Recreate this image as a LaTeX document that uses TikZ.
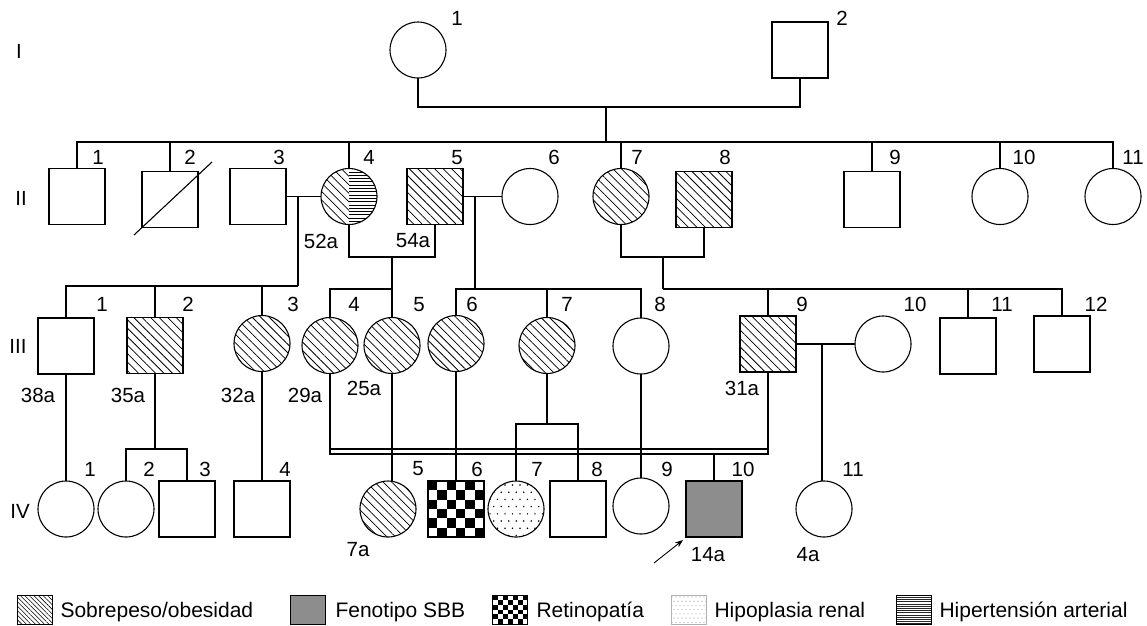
\documentclass[tikz,border=0pt]{standalone}
\usepackage{fontspec}
\setmainfont{Liberation Sans}
\usetikzlibrary{patterns.meta,calc,arrows.meta}
\definecolor{sbbgray}{RGB}{141,141,141}
\begin{document}
\begin{tikzpicture}[x=1pt,y=-1pt,line width=1.1pt,
  male/.style={draw,rectangle,minimum width=56pt,minimum height=56pt,inner sep=0pt,outer sep=0pt},
  female/.style={draw,circle,minimum size=56pt,inner sep=0pt,outer sep=0pt},
  obese/.style={pattern={Lines[angle=-45,distance=6pt,line width=0.75pt]}},
  sbb/.style={fill=sbbgray},
  checker/.style={path picture={
    \foreach \i in {0,...,5}{\foreach \j in {0,...,5}{
      \pgfmathtruncatemacro\chk{mod(\i+\j,2)}
      \ifnum\chk=0
        \fill[black] ($(path picture bounding box.north west)+({\i*9.3333},{\j*9.3333})$) rectangle ++(9.3333,9.3333);
      \fi}}}},
  dotty/.style={path picture={
    \foreach \r in {0,...,7}{\foreach \c in {0,...,7}{
      \fill ($(path picture bounding box.north west)+({\c*7.5+mod(\r,2)*3.75+2},{\r*7.2+4})$) circle (0.8pt);}}}},
  halfhyper/.style={path picture={
    \fill[pattern={Lines[angle=-45,distance=6pt,line width=0.75pt]}]
      (path picture bounding box.north west) rectangle (path picture bounding box.south);
    \foreach \k in {1,...,17}
      \draw[line width=0.6pt] ($(path picture bounding box.north)+(0,{\k*3.3})$) -- ++(30,0);}},
  smallchecker/.style={path picture={
    \foreach \i in {0,...,6}{\foreach \j in {0,...,5}{
      \pgfmathtruncatemacro\chk{mod(\i+\j,2)}
      \ifnum\chk=0
        \fill[black] ($(path picture bounding box.north west)+({\i*5},{\j*4.833})$) rectangle ++(5,4.833);
      \fi}}}},
  smalldots/.style={path picture={
    \foreach \r in {0,...,6}{\foreach \c in {0,...,8}{
      \fill[gray!80] ($(path picture bounding box.north west)+({\c*4+mod(\r,2)*2+1},{\r*4.2+2})$) circle (0.55pt);}}}},
  hlines/.style={path picture={
    \foreach \k in {1,...,13}
      \draw[line width=0.55pt,black!85] ($(path picture bounding box.north west)+(0,{\k*2.2})$) -- ++(35,0);}},
  num/.style={inner sep=0pt,font=\fontsize{20.5}{24}\selectfont},
  legtext/.style={inner sep=0pt,anchor=base west,font=\fontsize{21}{24}\selectfont},
  legbox/.style={draw,rectangle,minimum width=35pt,minimum height=29pt,inner sep=0pt,outer sep=0pt,line width=0.9pt},
]
\useasboundingbox (0,0) rectangle (1147,625);

% ---------- generation labels
\node[num] (gI)   at (19,51)  {I};
\node[num] (gII)  at (21,198) {II};
\node[num] (gIII) at (18,346) {III};
\node[num] (gIV)  at (20,511) {IV};

% ---------- generation I
\node[female] (i1) at (418,50) {};
\node[male]   (i2) at (800,50) {};

% ---------- generation II
\node[male]            (ii1)  at (77,196.5)  {};
\node[male]            (ii2)  at (170,199.5) {};
\node[male]            (ii3)  at (258,196.5) {};
\node[female,halfhyper](ii4)  at (349,196.5) {};
\node[male,obese]      (ii5)  at (435,196.5) {};
\node[female]          (ii6)  at (530,196.5) {};
\node[female,obese]    (ii7)  at (621,196.5) {};
\node[male,obese]      (ii8)  at (704,199.5) {};
\node[male]            (ii9)  at (872,199.5) {};
\node[female]          (ii10) at (1000,196.5) {};
\node[female]          (ii11) at (1113,196.5) {};
% deceased mark
\draw ($(ii2.center)+(-36,35.5)$) -- ($(ii2.center)+(42,-37.5)$);

% ---------- generation III
\node[male]         (iii1)  at (66,346)    {};
\node[male,obese]   (iii2)  at (155,345.5) {};
\node[female,obese] (iii3)  at (262,343.5) {};
\node[female,obese] (iii4)  at (330,345.5) {};
\node[female,obese] (iii5)  at (392,345.5) {};
\node[female,obese] (iii6)  at (456,343.5) {};
\node[female,obese] (iii7)  at (547,345.5) {};
\node[female]       (iii8)  at (641,346)   {};
\node[male,obese]   (iii9)  at (768,344)   {};
\node[female]       (iii10) at (883,344)   {};
\node[male]         (iii11) at (968,346)   {};
\node[male]         (iii12) at (1062,344)  {};

% ---------- generation IV
\node[female]       (iv1)  at (66,509)  {};
\node[female]       (iv2)  at (126,509) {};
\node[male]         (iv3)  at (187,509) {};
\node[male]         (iv4)  at (262,509) {};
\node[female,obese] (iv5)  at (388,509) {};
\node[male,checker] (iv6)  at (456,509) {};
\node[female,dotty] (iv7)  at (516,509) {};
\node[male]         (iv8)  at (578,509) {};
\node[female]       (iv9)  at (641,506) {};
\node[male,sbb]     (iv10) at (714,509) {};
\node[female]       (iv11) at (824,509) {};

% ---------- I -> II
\coordinate (mI)  at (606,107);
\coordinate (sII) at (606,142);
\draw (i1.south) |- (mI) -| (i2.south);
\draw (mI) -- (sII);
\draw (ii1.north) |- (sII) -| (ii11.north);
\foreach \n in {ii2,ii4,ii7,ii9,ii10} \draw (sII -| \n.north) -- (\n.north);

% ---------- II-3 x II-4
\draw (ii3.east) -- (ii4.west);
\coordinate (m34)   at (298,196.5);
\coordinate (sIIIa) at (298,286);
\draw (m34) -- (sIIIa);
\draw (iii1.north) |- (sIIIa);
\draw (sIIIa -| iii2.north) -- (iii2.north);
\draw (sIIIa -| iii3.north) -- (iii3.north);

% ---------- II-4 x II-5
\coordinate (m45)   at (392,257);
\coordinate (sIIIb) at (392,289);
\draw (ii4.south) |- (m45) -| (ii5.south);
\draw (m45) -- (sIIIb);
\draw (iii4.north) |- (sIIIb) -- (iii5.north);

% ---------- II-5 x II-6
\draw (ii5.east) -- (ii6.west);
\coordinate (m56)   at (475,196.5);
\coordinate (sIIIc) at (475,289);
\draw (m56) -- (sIIIc);
\draw (iii6.north) |- (sIIIc) -| (iii8.north);
\draw (sIIIc -| iii7.north) -- (iii7.north);

% ---------- II-7 x II-8
\coordinate (m78)   at (663,257);
\coordinate (sIIId) at (663,289);
\draw (ii7.south) |- (m78) -| (ii8.south);
\draw (m78) -- (sIIId);
\draw (sIIId) -| (iii12.north);
\foreach \n in {iii9,iii11} \draw (sIIId -| \n.north) -- (\n.north);

% ---------- III-9 x III-10
\draw (iii9.east) -- (iii10.west);
\coordinate (m910) at (822,344);
\draw (m910) -- (m910 |- iv11.north);

% ---------- III -> IV
\draw (iii1.south) -- (iv1.north);
\coordinate (sIVa) at (155,449);
\draw (iii2.south) -- (sIVa);
\draw (iv2.north) |- (sIVa) -| (iv3.north);
\draw (iii3.south) -- (iv4.north);
% consanguineous union III-4 x III-9
\coordinate (dL) at (330,454);
\coordinate (dR) at (768,454);
\draw (iii4.south) -- (dL) -- (dR) -- (iii9.south);
\draw ($(dL)+(0,-5)$) -- ($(dR)+(0,-5)$);
\draw (dL -| iv10.north) -- (iv10.north);
\draw (iii5.south) -- (iii5.south |- iv5.north);
\draw (iii6.south) -- (iv6.north);
\coordinate (sIVb) at (547,424);
\draw (iii7.south) -- (sIVb);
\draw (iv7.north) |- (sIVb) -| (iv8.north);
\draw (iii8.south) -- (iv9.north);

% proband arrow
\coordinate (pr) at (654,563);
\draw[-{Stealth[length=8pt,width=6pt]},line width=0.9pt] (pr) -- ($(iv10.south west)+(-3,3)$);

% ---------- individual numbers
\foreach \t/\x/\y [count=\k] in {1/457/18.5, 2/842/18.5}
  \node[num] (nI\k) at (\x,\y) {\t};
\foreach \t/\x [count=\k] in {1/98,2/190,3/279,4/369,5/457,6/554,7/637,8/725,9/895,10/1024,11/1133}
  \node[num] (nII\k) at (\x,157.5) {\t};
\foreach \t/\x [count=\k] in {1/102,2/188,3/293,4/354,5/419,6/472,7/567,8/660,9/802,10/915,11/1002,12/1096}
  \node[num] (nIII\k) at (\x,304.5) {\t};
\foreach \t/\x [count=\k] in {1/90,2/149,3/205,4/285,5/418,6/477,7/537,8/597,9/667,10/743,11/853}
  \node[num] (nIV\k) at (\x,469) {\t};

% ---------- ages
\foreach \t/\x/\y [count=\k] in {52a/321/241, 54a/413/241, 38a/38/395, 35a/128/395, 32a/238/395,
    29a/305/395, 25a/364/388, 31a/742/388, 7a/358/550, 14a/708/555, 4a/808/555}
  \node[num] (age\k) at (\x,\y) {\t};

% ---------- legend
\node[legbox,pattern={Lines[angle=-45,distance=3.2pt,line width=0.55pt]}] (lg1) at (35,609.5) {};
\node[legtext] (lt1) at (60,617) {Sobrepeso/obesidad};
\node[legbox,fill=sbbgray] (lg2) at (308,609.5) {};
\node[legtext] (lt2) at (335,617) {Fenotipo SBB};
\node[legbox,smallchecker] (lg3) at (510,609.5) {};
\node[legtext] (lt3) at (536,617) {Retinopatía};
\node[legbox,draw=gray!60,smalldots] (lg4) at (688.5,609.5) {};
\node[legtext] (lt4) at (714,617) {Hipoplasia renal};
\node[legbox,hlines] (lg5) at (913.5,609.5) {};
\node[legtext] (lt5) at (939,617) {Hipertensión arterial};
\end{tikzpicture}
\end{document}
